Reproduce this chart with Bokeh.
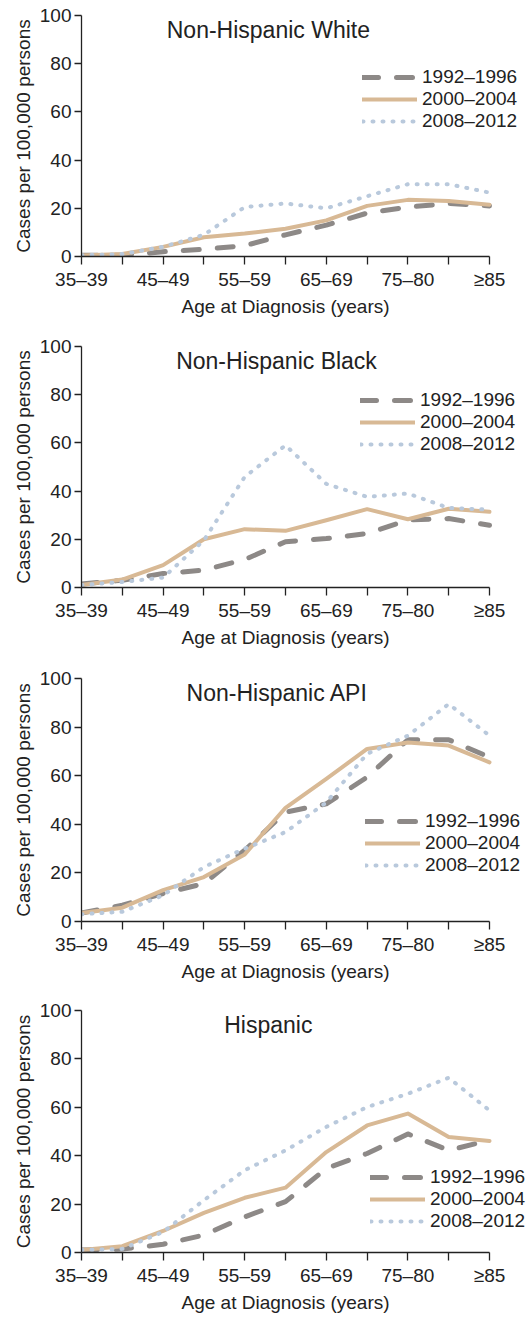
from bokeh.plotting import figure
from bokeh.models import Range1d, FixedTicker, Legend, LegendItem, Label, Title
from bokeh.layouts import column
from bokeh.embed import file_html
from bokeh.resources import INLINE

ages = ["35–39", "40–44", "45–49", "50–54", "55–59", "60–64",
        "65–69", "70–74", "75–80", "80–84", "≥85"]
periods = ["1992–1996", "2000–2004", "2008–2012"]

white_1992 = [0.5, 0.5, 2, 3, 4.5, 9, 13, 18, 20.5, 22, 21]
white_2000 = [0.4, 1, 4, 8, 9.5, 11.5, 15, 21, 23.5, 23, 21.5]
white_2008 = [0.5, 1, 4, 9, 20.5, 22, 20, 25, 30, 30, 26.5]

black_1992 = [1.5, 3, 5.8, 7.2, 11.6, 19, 20.3, 22.4, 28, 28.6, 25.8]
black_2000 = [1, 3.3, 9.3, 20, 24.2, 23.5, 27.9, 32.5, 28.3, 32.7, 31.4]
black_2008 = [1, 2.3, 4.1, 19.6, 45.9, 59, 43, 37.6, 39, 33, 32.3]

api_1992 = [3.5, 6.7, 11.5, 15.6, 29.3, 45, 48.4, 59.4, 74.8, 74.8, 67.6]
api_2000 = [3.5, 5.7, 12.9, 18.3, 27.6, 46.8, 58.7, 71, 73.7, 72.4, 65.5]
api_2008 = [3, 4, 10.8, 22.4, 30, 36.8, 49, 69, 76.5, 89.5, 76.5]

hisp_1992 = [1, 1.4, 3.4, 7.2, 14.7, 21, 34.7, 40.9, 49, 42.2, 46.4]
hisp_2000 = [1, 2.6, 8.9, 16.4, 22.6, 26.8, 41.5, 52.5, 57.4, 47.7, 46.1]
hisp_2008 = [1, 1.5, 8.5, 21.6, 34, 42.2, 51.9, 60.1, 65.6, 72.2, 58.7]

panels = [
    ("Non-Hispanic White", [white_1992, white_2000, white_2008]),
    ("Non-Hispanic Black", [black_1992, black_2000, black_2008]),
    ("Non-Hispanic API", [api_1992, api_2000, api_2008]),
    ("Hispanic", [hisp_1992, hisp_2000, hisp_2008]),
]

# layout per panel: (height, top border, bottom border, title x, legend x, legend y)
layout_cfg = [
    (330, 15, 74, 4.58, 281, 124),
    (330, 16, 73, 4.78, 279, 132),
    (330, 18, 69, 4.80, 284, 45),
    (328, 20, 66, 4.58, 289, 20),
]

FONT = "Liberation Sans"
styles = [
    dict(color="#8d8987", line_width=5, line_dash="16 18", line_cap="round"),
    dict(color="#d8b995", line_width=4, line_dash="solid", line_cap="round"),
    dict(color="#b9c9dc", line_width=4, line_dash="1 9", line_cap="round"),
]

LEFT = 81
FRAME_W = 531 - LEFT
DATA_W = 408  # pixels spanned by the 11 age groups
x_end = (len(ages) - 1) * FRAME_W / DATA_W
XLABEL = "Age at Diagnosis (years)"

x = list(range(len(ages)))
figs = []
for (title, series), (h, bt, bb, tx, lx, ly) in zip(panels, layout_cfg):
    p = figure(width=531, height=h, output_backend="svg", toolbar_location=None,
               x_range=Range1d(0, x_end), y_range=Range1d(0, 100),
               min_border_left=LEFT, min_border_right=0,
               min_border_top=bt, min_border_bottom=bb)
    p.outline_line_color = None
    p.xgrid.visible = False
    p.ygrid.visible = False
    p.background_fill_color = "white"

    items = []
    for name, vals, st in zip(periods, series, styles):
        r = p.line(x, vals, line_color=st["color"], line_width=st["line_width"],
                   line_dash=st["line_dash"], line_cap=st["line_cap"],
                   line_join="round")
        items.append(LegendItem(label=name, renderers=[r]))

    leg = Legend(items=items, location=(lx, ly), orientation="vertical",
                 glyph_width=55, glyph_height=20, label_height=20,
                 label_standoff=5, spacing=0, padding=0, margin=0,
                 background_fill_alpha=0, border_line_alpha=0,
                 label_text_font=FONT, label_text_font_size="19px",
                 label_text_color="#222222")
    p.add_layout(leg, "center")

    p.add_layout(Label(x=tx, y=94, text=title, text_align="center",
                       text_baseline="middle", text_font=FONT,
                       text_font_size="23px", text_color="#222222"))

    xa = p.xaxis[0]
    xa.ticker = FixedTicker(ticks=x)
    xa.bounds = (0, len(ages) - 1)
    xa.major_label_overrides = {i: (ages[i] if i % 2 == 0 else "") for i in x}
    ya = p.yaxis[0]
    ya.ticker = FixedTicker(ticks=[0, 20, 40, 60, 80, 100])
    ya.axis_label = "Cases per 100,000 persons"
    for ax, tout, std in ((xa, 8, 4), (ya, 7, 3)):
        ax.axis_line_color = "#222222"
        ax.axis_line_width = 1.3
        ax.major_tick_line_color = "#222222"
        ax.major_tick_line_width = 1.3
        ax.major_tick_in = 0
        ax.major_tick_out = tout
        ax.minor_tick_line_color = None
        ax.major_label_standoff = std
        ax.major_label_text_font = FONT
        ax.major_label_text_font_size = "19px"
        ax.major_label_text_color = "#222222"
        ax.axis_label_text_font = FONT
        ax.axis_label_text_font_size = "19px"
        ax.axis_label_text_font_style = "normal"
        ax.axis_label_text_color = "#222222"
    ya.axis_label_standoff = 3

    # x-axis title centred under the age groups (not the whole frame)
    p.add_layout(Title(text=XLABEL, align="left", offset=100,
                       vertical_align="top", standoff=7,
                       text_font=FONT, text_font_size="19px",
                       text_font_style="normal", text_color="#222222"),
                 "below")
    figs.append(p)

layout = column(*figs, spacing=0)
open("out.html", "w").write(file_html(layout, INLINE))
